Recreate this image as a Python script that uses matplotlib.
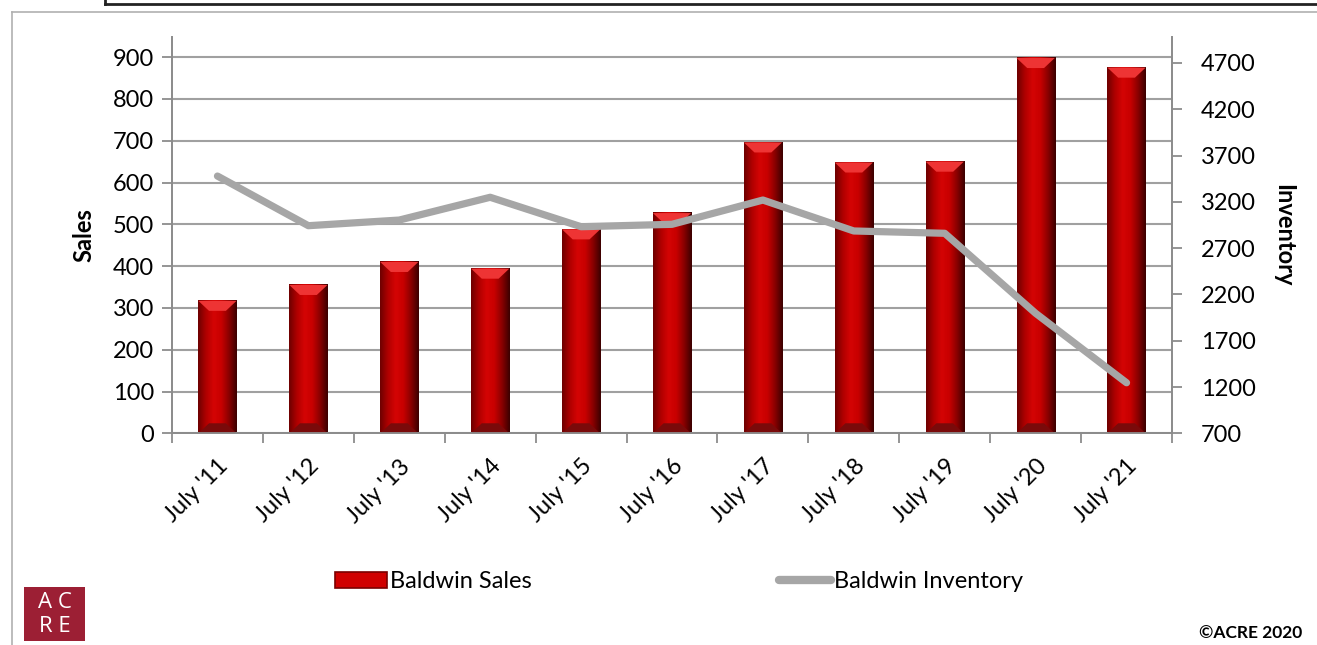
import numpy as np
import matplotlib.pyplot as plt
from matplotlib.colors import LinearSegmentedColormap
from matplotlib.patches import Polygon, Rectangle
from matplotlib.lines import Line2D

plt.rcParams["font.family"] = ["Lato", "DejaVu Sans"]

labels = ["July '11", "July '12", "July '13", "July '14", "July '15", "July '16",
          "July '17", "July '18", "July '19", "July '20", "July '21"]
sales = [317, 355, 410, 394, 488, 527, 696, 648, 650, 898, 875]
inventory = [3478, 2942, 3003, 3249, 2931, 2957, 3219, 2885, 2860, 1996, 1246]

fig = plt.figure(figsize=(13.17, 6.45), dpi=100)
ax = fig.add_axes([0.1306, 0.3282, 0.7593, 0.6149])
ax2 = ax.twinx()

x = np.arange(len(labels))
w = 0.42

# bars with a horizontal shade, like the bevelled excel bars
shade = LinearSegmentedColormap.from_list(
    "shade", ["#6e0000", "#b00000", "#d40404", "#c80000", "#8a0000", "#3c0000"])
grad = np.linspace(0, 1, 64).reshape(1, -1)
bars = ax.bar(x, sales, width=w, color="none", zorder=2)
for b in bars:
    x0, h = b.get_x(), b.get_height()
    ax.imshow(grad, cmap=shade, extent=[x0, x0 + w, 0, h],
              aspect="auto", zorder=2, interpolation="bicubic")
    bev = 24
    ax.add_patch(Polygon([[x0, h], [x0 + w, h], [x0 + w * 0.72, h - bev],
                          [x0 + w * 0.28, h - bev]],
                         closed=True, facecolor="#ee3434", edgecolor="none", zorder=3))
    ax.add_patch(Polygon([[x0, 0], [x0 + w, 0], [x0 + w * 0.72, bev],
                          [x0 + w * 0.28, bev]],
                         closed=True, facecolor="#7a0a0a", edgecolor="none", zorder=3))

ax2.plot(x, inventory, color="#a6a6a6", lw=5.2, solid_capstyle="round",
         solid_joinstyle="round", zorder=4)

ax.set_xlim(-0.5, len(labels) - 0.5)
ax.set_ylim(0, 949)
ax2.set_ylim(700, 4983)
ax.set_yticks(range(0, 901, 100))
ax2.set_yticks(range(700, 4701, 500))
ax.yaxis.grid(True, color="#a0a0a0", lw=1.5, zorder=0)
ax.set_axisbelow(True)

ax.set_xticks(x)
ax.set_xticklabels(labels, rotation=45, ha="right", rotation_mode="anchor")
ax.set_xticks(np.arange(-0.5, len(labels)), minor=True)
ax.tick_params(axis="x", which="major", length=0, pad=16, labelsize=17)
ax.tick_params(axis="x", which="minor", length=7, width=1.3, color="#8c8c8c")
ax.tick_params(axis="y", length=7, width=1.3, color="#8c8c8c", labelsize=17, pad=6)
ax2.tick_params(axis="y", length=7, width=1.3, color="#8c8c8c", labelsize=17, pad=14)

for a in (ax, ax2):
    a.spines["top"].set_visible(False)
    for s in ("left", "right", "bottom"):
        a.spines[s].set_color("#8c8c8c")
        a.spines[s].set_linewidth(1.3)

ax.set_ylabel("Sales", fontsize=17, fontweight="bold", labelpad=12)
ax2.set_ylabel("Inventory", fontsize=17, fontweight="bold", rotation=270, labelpad=28)

handles = [Rectangle((0, 0), 1, 1, facecolor="#d00000", edgecolor="#7a0000", lw=1.2),
           Line2D([], [], color="#a6a6a6", lw=6, solid_capstyle="round")]
fig.legend(handles, ["Baldwin Sales", "Baldwin Inventory"], loc="center",
           bbox_to_anchor=(0.5156, 0.0977), ncol=2, frameon=False, fontsize=17,
           handlelength=2.2, handletextpad=0.1, columnspacing=10.5)

# frame lines
fig.add_artist(Line2D([12 / 1317, 12 / 1317], [0, 1 - 12 / 645], color="#b0b0b0", lw=1.2))
fig.add_artist(Line2D([12 / 1317, 1], [1 - 12 / 645, 1 - 12 / 645], color="#b0b0b0", lw=1.2))
fig.add_artist(Line2D([105 / 1317, 1], [1 - 4 / 645, 1 - 4 / 645], color="#222222", lw=2))
fig.add_artist(Line2D([105 / 1317, 105 / 1317], [1 - 4 / 645, 1], color="#222222", lw=2))

# logo
fig.add_artist(Rectangle((24 / 1317, 1 - 641 / 645), 61 / 1317, 54 / 645,
                         transform=fig.transFigure, facecolor="#9c1f34", edgecolor="none"))
fig.text(54.5 / 1317, 1 - 602 / 645, "A C", color="white", fontsize=16,
         ha="center", va="center", family=["Open Sans", "DejaVu Sans"])
fig.text(54.5 / 1317, 1 - 626 / 645, "R E", color="white", fontsize=16,
         ha="center", va="center", family=["Open Sans", "DejaVu Sans"])

fig.text(1302 / 1317, 1 - 633 / 645, "©ACRE 2020", fontsize=12.5, fontweight="bold",
         ha="right", va="center")

fig.savefig("out.png", dpi=100)
